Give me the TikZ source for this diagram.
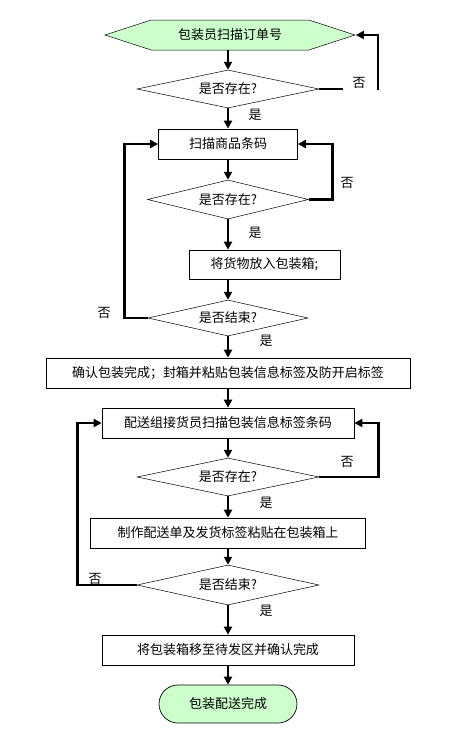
\documentclass[tikz,border=0pt]{standalone}
\usepackage{fontspec}
\setmainfont{Noto Sans CJK SC}
\usetikzlibrary{shapes.geometric,shapes.symbols,arrows.meta}
\definecolor{paleGreen}{RGB}{204,255,204}
\begin{document}
\begin{tikzpicture}[x=1pt,y=-1pt]
		\tikzstyle{txt}=[font=\fontsize{13pt}{15pt}\selectfont]
		\tikzstyle{box}=[txt,draw,rectangle,line width=0.7pt,minimum height=30pt,inner sep=0pt]
		\tikzstyle{ask}=[txt,draw,diamond,aspect=4.8,line width=0.5pt,minimum width=182pt,minimum height=38pt,inner sep=0pt]
		\tikzstyle{hexa}=[txt,draw,signal,signal to=west and east,signal pointer angle=36,fill=paleGreen,line width=0.5pt,minimum width=250pt,minimum height=30pt,inner sep=0pt]
		\tikzstyle{stop}=[txt,draw,rectangle,rounded corners=19pt,fill=paleGreen,line width=0.7pt,minimum width=138pt,minimum height=38pt]
		\tikzstyle{flow}=[line width=2.6pt,-{Triangle[length=8pt,width=8pt]}]
		\tikzstyle{back}=[line width=2.6pt]
	\useasboundingbox (0,0) rectangle (448,737);
	% main column
	\node[hexa] (s) at (230,35) {包装员扫描订单号};
	\node[ask] (q_1) at (228,89) {是否存在?};
	\node[box,minimum width=139pt] (b_1) at (228,144) {扫描商品条码};
	\node[ask,minimum width=161pt,minimum height=39pt] (q_2) at (228,199.5) {是否存在?};
	\node[box,minimum width=151pt,minimum height=29pt] (b_2) at (264.5,264.5) {将货物放入包装箱;};
	\node[ask,minimum width=160pt,minimum height=36pt] (q_3) at (228,318) {是否结束?};
	\node[box,minimum width=364pt] (b_3) at (228,373) {确认包装完成；封箱并粘贴包装信息标签及防开启标签};
	\node[box,minimum width=252pt] (b_4) at (228,423) {配送组接货员扫描包装信息标签条码};
	\node[ask] (q_4) at (228,477) {是否存在?};
	\node[box,minimum width=275pt] (b_5) at (228,533) {制作配送单及发货标签粘贴在包装箱上};
	\node[ask,minimum height=40pt] (q_5) at (228,585) {是否结束?};
	\node[box,minimum width=252pt] (b_6) at (228,650) {将包装箱移至待发区并确认完成};
	\node[stop] (t) at (228,704) {包装配送完成};
	% yes / no labels
	\node[txt] (y_1) at (255,115) {是};
	\node[txt] (n_1) at (359,83) {否};
	\node[txt] (y_2) at (255,233) {是};
	\node[txt] (n_2) at (347,183) {否};
	\node[txt] (n_3) at (104,313) {否};
	\node[txt] (y_3) at (266,341) {是};
	\node[txt] (n_4) at (347,462) {否};
	\node[txt] (y_4) at (266,503) {是};
	\node[txt] (n_5) at (95,579) {否};
	\node[txt] (y_5) at (266,611) {是};
	% connectors
	\draw[flow] (s.south -| q_1.north) -- (q_1.north);
	\draw[flow] (q_1.south) -- (b_1.north);
	\draw[flow] (b_1.south) -- (q_2.north);
	\draw[flow] (q_2.south) -- (q_2.south |- b_2.north);
	\draw[flow] (b_2.south -| q_3.north) -- (q_3.north);
	\draw[flow] (q_3.south) -- (b_3.north);
	\draw[flow] (b_3.south) -- (b_4.north);
	\draw[flow] (b_4.south) -- (q_4.north);
	\draw[flow] (q_4.south) -- (b_5.north);
	\draw[flow] (b_5.south) -- (q_5.north);
	\draw[flow] (q_5.south) -- (b_6.north);
	\draw[flow] (b_6.south) -- (t.north);
	\coordinate (c_1) at (343,89);
	\coordinate (c_2) at (378,90);
	\draw[back] (q_1.east) -- (c_1);
	\draw[flow] (c_2) |- (s.east);
	\draw[flow] (q_2.east) -- ++(24,0) |- (b_1.east);
	\draw[flow] (q_3.west) -- ++(-23,0) |- (b_1.west);
	\draw[flow] (q_4.east) -- ++(59,0) |- (b_4.east);
	\draw[flow] (q_5.west) -- ++(-59,0) |- (b_4.west);
\end{tikzpicture}
\end{document}
